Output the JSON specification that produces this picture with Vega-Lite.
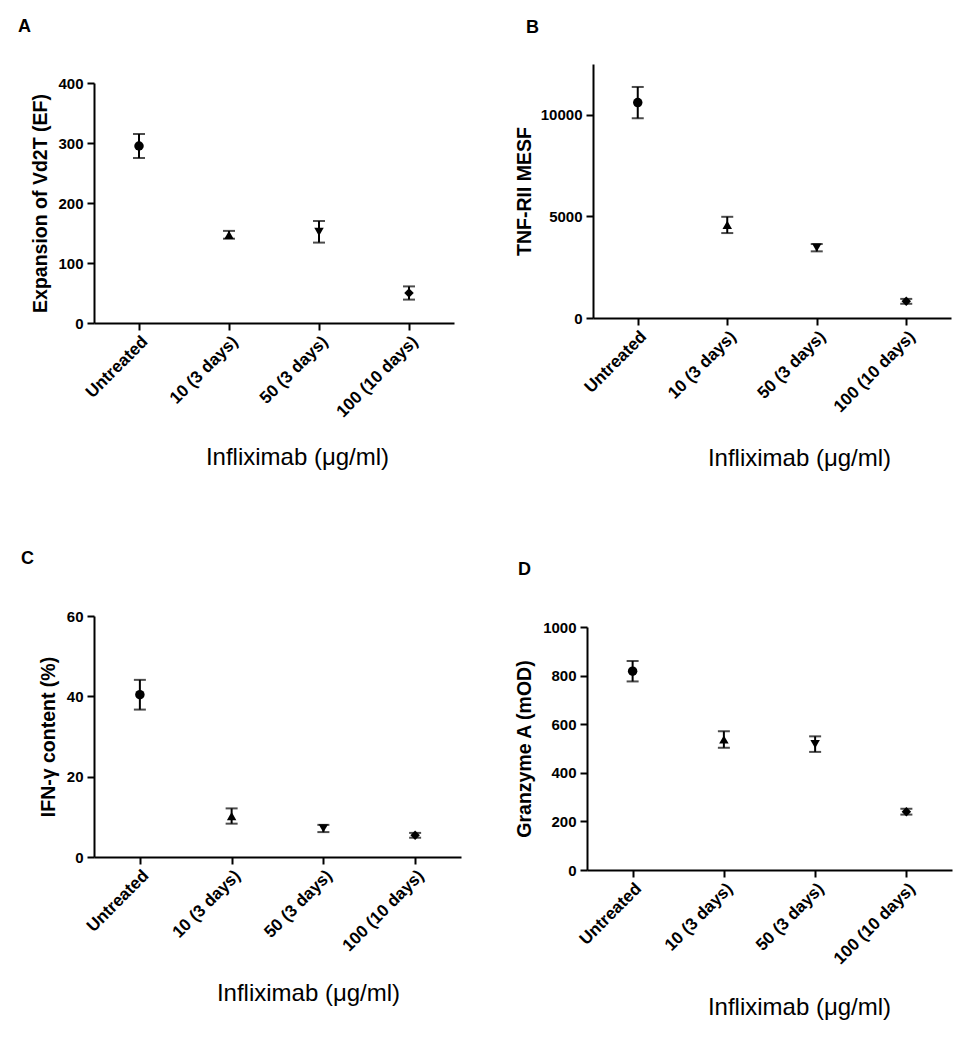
{
  "$schema": "https://vega.github.io/schema/vega-lite/v6.json",
  "background": "white",
  "padding": {"left": 18, "top": 17, "right": 5, "bottom": 5},
  "datasets": {
    "A": [
      {"group": "Untreated", "mean": 295, "sem": 20},
      {"group": "10 (3 days)", "mean": 147, "sem": 6.5},
      {"group": "50 (3 days)", "mean": 152, "sem": 18},
      {"group": "100 (10 days)", "mean": 50, "sem": 11}
    ],
    "B": [
      {"group": "Untreated", "mean": 10600, "sem": 770},
      {"group": "10 (3 days)", "mean": 4580, "sem": 400},
      {"group": "50 (3 days)", "mean": 3460, "sem": 180},
      {"group": "100 (10 days)", "mean": 820, "sem": 120}
    ],
    "C": [
      {"group": "Untreated", "mean": 40.4, "sem": 3.7},
      {"group": "10 (3 days)", "mean": 10.2, "sem": 1.9},
      {"group": "50 (3 days)", "mean": 7.1, "sem": 0.9},
      {"group": "100 (10 days)", "mean": 5.4, "sem": 0.6}
    ],
    "D": [
      {"group": "Untreated", "mean": 818, "sem": 42},
      {"group": "10 (3 days)", "mean": 537, "sem": 34},
      {"group": "50 (3 days)", "mean": 518, "sem": 32},
      {"group": "100 (10 days)", "mean": 240, "sem": 12}
    ]
  },
  "config": {
    "view": {"stroke": null},
    "font": "Liberation Sans",
    "title": {"anchor": "start", "frame": "group", "fontSize": 18, "fontWeight": "bold", "font": "Liberation Sans", "color": "black"},
    "axis": {"domainColor": "black", "domainWidth": 2, "tickColor": "black", "tickWidth": 2, "tickSize": 7, "labelColor": "black", "labelFont": "Liberation Sans", "labelFontWeight": "bold", "grid": false, "titleColor": "black", "titleFont": "Liberation Sans"},
    "axisY": {"labelFontSize": 15, "labelPadding": 4, "titleFontSize": 19.5, "titleFontWeight": "bold"},
    "axisX": {"labelAngle": -45, "labelFontSize": 17, "labelPadding": 3, "titleFontSize": 24, "titleFontWeight": "normal", "titleBaseline": "alphabetic", "titleAlign": "center"}
  },
  "concat": [
    {"width": 1, "height": 1, "data": {"values": []}, "mark": "point"},
    {"width": 1, "height": 1, "data": {"values": []}, "mark": "point"},
    {
      "width": 360, "height": 240,
      "data": {"name": "A"},
      "title": {"text": "A", "dx": -76, "offset": 40},
      "encoding": {
        "x": {"field": "group", "type": "nominal", "sort": null, "scale": {"type": "point", "padding": 0.5}, "axis": {"title": "Infliximab (μg/ml)", "titleX": 203, "titleY": 141, "labelFontSize": 17}},
        "y": {"field": "mean", "type": "quantitative", "scale": {"domain": [0, 400]}, "axis": {"title": "Expansion of Vd2T (EF)", "values": [0, 100, 200, 300, 400], "titlePadding": 7, "labelFontSize": 15}}
      },
      "layer": [
        {"mark": {"type": "errorbar", "ticks": true, "size": 12, "thickness": 2, "color": "black"}, "encoding": {"yError": {"field": "sem"}}},
        {"mark": {"type": "point", "filled": true, "color": "black", "opacity": 1, "size": 90},
         "encoding": {"shape": {"field": "group", "type": "nominal", "sort": null, "scale": {"domain": ["Untreated", "10 (3 days)", "50 (3 days)", "100 (10 days)"], "range": ["circle", "triangle-up", "triangle-down", "diamond"]}, "legend": null}}}
      ]
    },
    {
      "width": 358, "height": 254,
      "data": {"name": "B"},
      "title": {"text": "B", "dx": -67, "offset": 27.5},
      "encoding": {
        "x": {"field": "group", "type": "nominal", "sort": null, "scale": {"type": "point", "padding": 0.5}, "axis": {"title": "Infliximab (μg/ml)", "titleX": 206, "titleY": 147, "labelFontSize": 17}},
        "y": {"field": "mean", "type": "quantitative", "scale": {"domain": [0, 12500]}, "axis": {"title": "TNF-RII MESF", "values": [0, 5000, 10000], "format": "d", "titlePadding": 6, "labelFontSize": 15}}
      },
      "layer": [
        {"mark": {"type": "errorbar", "ticks": true, "size": 12, "thickness": 2, "color": "black"}, "encoding": {"yError": {"field": "sem"}}},
        {"mark": {"type": "point", "filled": true, "color": "black", "opacity": 1, "size": 90},
         "encoding": {"shape": {"field": "group", "type": "nominal", "sort": null, "scale": {"domain": ["Untreated", "10 (3 days)", "50 (3 days)", "100 (10 days)"], "range": ["circle", "triangle-up", "triangle-down", "diamond"]}, "legend": null}}}
      ]
    },
    {
      "width": 367, "height": 241,
      "data": {"name": "C"},
      "title": {"text": ["", "C"], "lineHeight": 61, "dx": -73, "offset": 41},
      "encoding": {
        "x": {"field": "group", "type": "nominal", "sort": null, "scale": {"type": "point", "padding": 0.5}, "axis": {"title": "Infliximab (μg/ml)", "titleX": 214, "titleY": 143, "labelFontSize": 17}},
        "y": {"field": "mean", "type": "quantitative", "scale": {"domain": [0, 60]}, "axis": {"title": "IFN-γ content (%)", "values": [0, 20, 40, 60], "titlePadding": 8, "labelFontSize": 15}}
      },
      "layer": [
        {"mark": {"type": "errorbar", "ticks": true, "size": 12, "thickness": 2, "color": "black"}, "encoding": {"yError": {"field": "sem"}}},
        {"mark": {"type": "point", "filled": true, "color": "black", "opacity": 1, "size": 90},
         "encoding": {"shape": {"field": "group", "type": "nominal", "sort": null, "scale": {"domain": ["Untreated", "10 (3 days)", "50 (3 days)", "100 (10 days)"], "range": ["circle", "triangle-up", "triangle-down", "diamond"]}, "legend": null}}}
      ]
    },
    {
      "width": 365, "height": 243,
      "data": {"name": "D"},
      "title": {"text": ["", "D"], "lineHeight": 91, "dx": -69, "offset": 41},
      "encoding": {
        "x": {"field": "group", "type": "nominal", "sort": null, "scale": {"type": "point", "padding": 0.5}, "axis": {"title": "Infliximab (μg/ml)", "titleX": 212, "titleY": 144, "labelFontSize": 17}},
        "y": {"field": "mean", "type": "quantitative", "scale": {"domain": [0, 1000]}, "axis": {"title": "Granzyme A (mOD)", "values": [0, 200, 400, 600, 800, 1000], "format": "d", "titlePadding": 8, "labelFontSize": 15}}
      },
      "layer": [
        {"mark": {"type": "errorbar", "ticks": true, "size": 12, "thickness": 2, "color": "black"}, "encoding": {"yError": {"field": "sem"}}},
        {"mark": {"type": "point", "filled": true, "color": "black", "opacity": 1, "size": 90},
         "encoding": {"shape": {"field": "group", "type": "nominal", "sort": null, "scale": {"domain": ["Untreated", "10 (3 days)", "50 (3 days)", "100 (10 days)"], "range": ["circle", "triangle-up", "triangle-down", "diamond"]}, "legend": null}}}
      ]
    }
  ],
  "columns": 2,
  "align": "none",
  "bounds": "full",
  "spacing": {"row": 0, "column": 53}
}
